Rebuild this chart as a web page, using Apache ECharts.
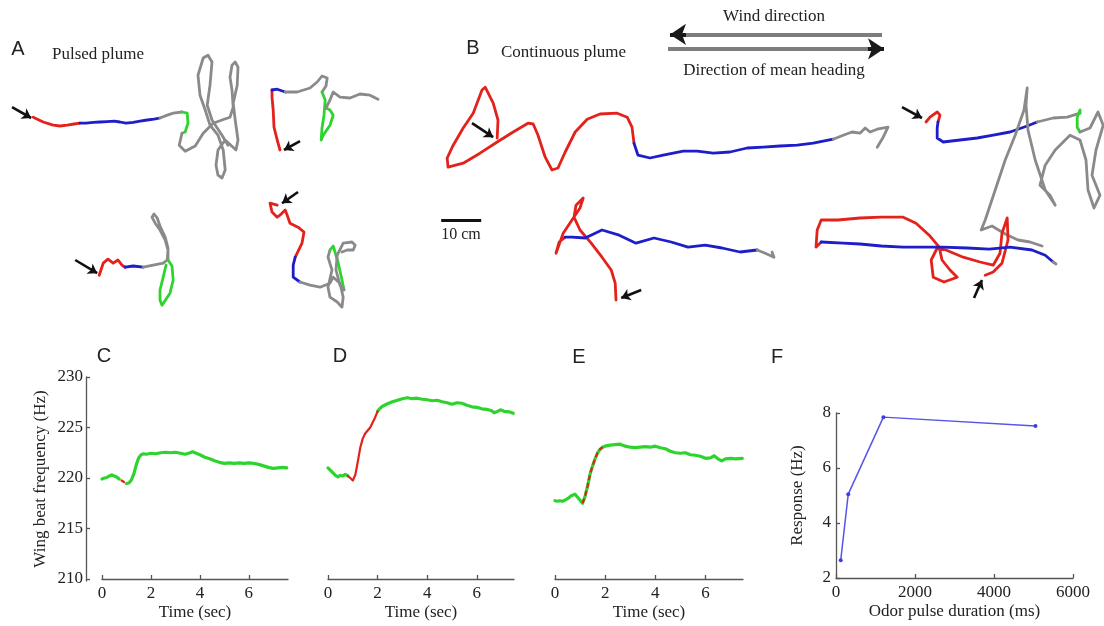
<!DOCTYPE html>
<html>
<head>
<meta charset="utf-8">
<script src="https://cdn.jsdelivr.net/npm/echarts@6/dist/echarts.min.js"></script>
<style>
  html, body { margin: 0; padding: 0; background: #fff; }
  #chart { width: 1104px; height: 626px; }
</style>
</head>
<body>
<div id="chart"></div>
<script>
// ---- Flight tracks (cm, figure frame, y grows downward) ----
// Each track is a list of [phase, points]: red = in odor, blue = upwind surge,
// green = casting onset, gray = before/after.
const TRACK_A1 = [
  ['red',  [[8.3,29.3],[10.8,30.5],[13.3,31.3],[15,31.5],[16.8,31.3],[18.5,31],[20,30.8]]],
  ['blue', [[20,30.8],[21.5,30.8],[23.3,30.6],[25,30.5],[26.8,30.4],[28.5,30.3],[30,30.5],[31.5,30.8],[33.3,30.6],[35,30.3],[36.8,30],[38.5,29.8],[40,29.5]]],
  ['gray', [[40,29.5],[41.5,28.9],[43.3,28.3],[45.5,28]]],
  ['green',[[45.5,28],[46.8,28.3],[47,30.8],[46.3,33],[45.5,33.3]]],
  ['gray', [[45.5,33.3],[44.8,36.3],[46.3,37.8],[48.8,36.5],[50.8,33.3],[53.3,30.8],[55.5,30],[57.5,29.3],[58.3,26.8],[58,22.5],[57.5,19.3],[58,16.3],[58.8,15.5],[59.5,16.8],[59.3,21.3],[58.3,25.8],[58.8,30],[59.5,35],[59,37.5],[56.3,35],[54.5,37.5],[54,41.3],[54.5,43.8],[55.5,44.5],[56.3,42.5],[55.8,37.5],[54.5,33.8],[52.5,31.3],[51.3,27.5],[50,23.8],[49.5,18.8],[50.8,14.5],[52,13.8],[53,15.5],[52.5,21.3],[51.8,26.3],[53,30],[55.5,33.8],[57,36.3]]]
];
const TRACK_A2 = [
  ['red',  [[70,37.5],[69.3,35],[68.5,31.8],[68.3,27.5],[68,24.3],[68,22.5]]],
  ['blue', [[68,22.5],[69.3,22.3],[71.3,23]]],
  ['gray', [[71.3,23],[74.3,23],[77.5,22],[79.3,20.5],[80.5,19],[81.8,19.5],[81.5,21.5],[80.5,23]]],
  ['green',[[80.5,23],[81.3,25],[81,28.8],[80.5,32],[80.3,35],[80.8,33.8],[82.5,31.3],[83.3,28.8],[82.5,27.5],[81.5,27]]],
  ['gray', [[81.5,27],[82.5,25],[83.3,23],[85,24.3],[87.5,24.5],[90,23.5],[92.5,23.8],[94.5,24.8]]]
];
const TRACK_A3 = [
  ['red',  [[24.8,68.8],[25.8,65.8],[27,64.8],[28.3,65.8],[29.5,65],[30.5,66.3],[31.3,66.8]]],
  ['blue', [[31.3,66.8],[33.3,66.5],[35.8,66.8]]],
  ['gray', [[35.8,66.8],[38.3,66.3],[40.8,65.8],[41.8,65],[42,62.5],[41.3,60],[40,57.5],[38.8,55.8],[38,54.3],[38.5,53.5],[39.3,54.5],[40,56.5],[41.3,59.3],[42,62],[42,65]]],
  ['green',[[42,65],[43,66.5],[43.3,70],[42.5,73.3],[40.5,76.3],[40,75],[40,72.5],[40.8,69.3],[41.5,66.3]]]
];
const TRACK_A4 = [
  ['red',  [[69.3,51.3],[67.5,50.8],[68,53],[69.3,54.3],[70,53.8],[71.3,52.5],[71.8,53.8],[72.5,55.8],[74.5,56.8],[76,58],[75.5,60.8],[74.3,63.3],[73.8,64.3]]],
  ['blue', [[73.8,64.3],[73.3,66.3],[73.3,69.3],[75,70.5]]],
  ['gray', [[75,70.5],[77.5,71.3],[80,71.8],[82.5,70.8],[83.3,69.3],[85,70.8],[85.8,74.3],[85.5,76.8],[84.3,75.5],[82.5,74.3],[82,71.8],[83,67.5],[82,64.3],[82.5,62.5]]],
  ['green',[[82.5,62.5],[83.3,61.5],[84.5,65.5],[85.5,70],[86,72.5]]],
  ['gray', [[86,72.5],[85,71.3],[84,67.5],[84.3,63.8],[85.8,60.8],[88,60.5],[88.8,61.3],[88.3,62.5],[86.8,62.5],[85.5,63]]]
];
const TRACK_B1 = [
  ['red',  [[124.3,34.5],[124.5,30],[123.3,25.8],[121.3,21.8],[120.5,22.5],[118.3,28.3],[115.8,32],[113.3,36.3],[111.8,39.5],[112,41.8],[115.8,40.8],[120,38.3],[124.3,35.5],[128.3,33],[132,30.8],[133.3,31],[134.5,33.8],[136.3,39.3],[138,42.5],[139.5,42],[141.3,38],[143.8,33],[146.8,29.8],[150,28.5],[154.3,28.3],[156.8,29.3],[158,31.8],[158.5,35.8]]],
  ['blue', [[158.5,35.8],[159.5,38.8],[162.5,39.5],[165.8,38.8],[170.8,37.8],[174.3,37.8],[178.3,38.3],[182.5,38],[186.8,37],[190.8,36.8],[195,36.5],[199.3,36.3],[203.3,35.8],[208.3,34.8]]],
  ['gray', [[208.3,34.8],[210.8,33.8],[213,33],[215,33.3],[216.3,32],[217.5,33],[219.3,32.3],[222,31.8],[220.8,34.3],[219.3,36.8]]]
];
const TRACK_B2 = [
  ['red',  [[231.5,30.5],[232.5,29.3],[234.3,28],[235,28.8],[234.5,30.5]]],
  ['blue', [[234.5,30.5],[234.3,32],[234.3,34.5],[235.8,35.5],[240,35],[244.3,34.5],[248.3,33.8],[252.5,33],[256.8,31.5],[259.3,30.5]]],
  ['gray', [[259.3,30.5],[263.3,29.5],[266.8,29.3],[270,28.3]]],
  ['green',[[270,28.3],[270,27.5],[269.3,29.3],[269.3,31.8],[270,33]]],
  ['gray', [[270,33],[272.5,32],[274.5,28],[275.8,31.3],[274,37.5],[273,43.8],[275,48.8],[273.5,52],[272,47.5],[271.5,40],[270,35],[267.5,33.8],[263.8,37.5],[261.3,41.3],[260,46.3],[262.5,48.8],[263.8,51.3],[261.3,47.5],[258.8,40],[257,32.5],[256.5,26.3],[256.8,22],[256,27.5],[253.8,33.8],[251.3,40],[248.8,47.5],[246.3,55],[245.3,57.5],[248,56.5],[251.3,58.5],[254.5,60],[257.5,60.5],[260.5,61.5]]]
];
const TRACK_B3 = [
  ['red',  [[154,75],[153.8,70.8],[152.8,67.5],[150.5,64.3],[147.8,60.8],[145,57.5],[143.5,54.3],[144,51.3],[145.8,49.5],[145,52],[143,55],[140.8,58.3],[139,63.3],[139.8,60.5],[141.3,59.3]]],
  ['blue', [[141.3,59.3],[143,59.3],[146.3,59.5],[150.5,57.5],[154.8,58.8],[159,60.8],[163.5,59.5],[167.8,60.5],[172,61.8],[176.3,61.3],[180.5,62],[185,63],[189.3,62.5]]],
  ['gray', [[189.3,62.5],[191.3,63.3],[193.5,64.3],[193,63]]]
];
const TRACK_B4 = [
  ['red',  [[246.3,68.8],[248.3,68],[250.5,65.8],[252,60],[251.8,54.5],[250.5,58.3],[250,63.3],[248.3,66.3],[245,65.5],[240.8,64.3],[236.5,62.5],[234.3,62],[232.8,65],[233.3,69.3],[236,70.5],[239.3,69.3],[237.5,67.5],[235.5,65],[234.8,61.8],[232.3,58.8],[229,55.8],[225.8,54.3],[220.3,54.3],[215,54.5],[209.5,55],[205.3,55],[204.3,57.5],[204,61.8],[205.3,60.5]]],
  ['blue', [[205.3,60.5],[210.8,60.8],[215,61],[220.3,61.5],[225.8,61.8],[231.3,61.8],[235.5,61.8],[241.8,62],[247.3,62.3],[252.5,61.8],[258,62.5],[261.3,63.8],[263.3,65.5]]],
  ['gray', [[263.3,65.5],[264,66]]]
];
// Start-of-track pointers: [tail, head]
const START_ARROWS = [
  [[3,26.8],[7.8,29.5]], [[75,35.3],[71,37.5]], [[18.8,65],[24.3,68.3]], [[74.5,48],[70.5,50.8]],
  [[118,30.8],[123.3,34.3]], [[225.5,26.8],[230.5,29.5]], [[160.3,72.5],[155.3,74.5]], [[243.5,74.5],[245.5,70]]
];
const WIND_ARROW = [[220.5,8.6],[167.5,8.6]];
const HEADING_ARROW = [[167,12.2],[221,12.2]];
const SCALE_BAR_CM = [[110.3,55],[120.3,55]];

// ---- Wing beat frequency traces: [time (s), frequency (Hz)] ----
const TRACE_C = [[0,219.9],[0.1,220.0],[0.2,220.05],[0.3,220.2],[0.4,220.3],[0.5,220.2],[0.6,220.1],[0.7,219.9],[0.8,219.75],[0.9,219.6],[1.0,219.45],[1.1,219.5],[1.2,219.8],[1.3,220.4],[1.4,221.3],[1.5,222.0],[1.6,222.3],[1.7,222.4],[1.8,222.35],[2.0,222.45],[2.2,222.4],[2.4,222.5],[2.6,222.55],[2.8,222.5],[3.0,222.55],[3.2,222.45],[3.4,222.35],[3.6,222.5],[3.7,222.6],[3.8,222.5],[4.0,222.3],[4.2,222.05],[4.4,221.9],[4.6,221.7],[4.8,221.55],[5.0,221.45],[5.2,221.5],[5.4,221.45],[5.6,221.5],[5.8,221.45],[6.0,221.5],[6.2,221.45],[6.4,221.35],[6.6,221.2],[6.8,221.05],[7.0,220.95],[7.2,221.0],[7.4,221.05],[7.55,221.0]];
const TRACE_D = [[0,221.0],[0.1,220.75],[0.2,220.5],[0.3,220.25],[0.4,220.1],[0.5,220.25],[0.6,220.2],[0.7,220.35],[0.8,220.2],[0.9,220.0],[1.0,219.75],[1.05,219.7],[1.1,220.3],[1.2,221.6],[1.3,223.0],[1.4,223.9],[1.5,224.4],[1.6,224.7],[1.7,225.0],[1.8,225.5],[1.9,226.0],[2.0,226.6],[2.1,226.9],[2.2,227.1],[2.4,227.35],[2.6,227.55],[2.8,227.7],[3.0,227.85],[3.2,227.95],[3.4,227.85],[3.6,227.9],[3.8,227.8],[4.0,227.75],[4.2,227.65],[4.4,227.7],[4.6,227.55],[4.8,227.45],[5.0,227.3],[5.2,227.45],[5.4,227.4],[5.6,227.2],[5.8,227.05],[6.0,227.0],[6.2,226.85],[6.4,226.8],[6.6,226.65],[6.7,226.45],[6.8,226.55],[6.95,226.75],[7.1,226.6],[7.3,226.55],[7.47,226.4]];
const TRACE_E = [[0,217.75],[0.1,217.7],[0.2,217.75],[0.3,217.7],[0.4,217.8],[0.5,217.95],[0.6,218.15],[0.7,218.3],[0.8,218.4],[0.9,218.1],[1.0,217.8],[1.1,217.5],[1.2,218.2],[1.3,219.2],[1.4,220.4],[1.5,221.2],[1.6,221.9],[1.7,222.5],[1.8,222.85],[1.9,223.05],[2.0,223.15],[2.2,223.25],[2.4,223.3],[2.6,223.35],[2.8,223.15],[3.0,223.05],[3.2,223.0],[3.4,223.05],[3.6,223.1],[3.8,223.05],[4.0,223.15],[4.2,223.0],[4.4,222.9],[4.6,222.65],[4.8,222.5],[5.0,222.45],[5.2,222.5],[5.4,222.3],[5.6,222.25],[5.8,222.15],[6.0,221.95],[6.2,222.0],[6.35,222.2],[6.5,221.9],[6.65,221.7],[6.8,221.9],[7.0,221.95],[7.2,221.9],[7.47,221.95]];
// Odor contact windows (s)
const ODOR_C = [0.75, 0.95];
const ODOR_D = [0.8, 2.0];
const ODOR_E = [1.1, 1.95];
const TIME_TICKS = [0, 2, 4, 6];
const FREQ_TICKS = [210, 215, 220, 225, 230];

// ---- Response vs. odor pulse duration ----
const PULSE_MS = [120, 310, 1200, 5050];
const RESPONSE_HZ = [2.65, 5.05, 7.85, 7.53];

const COLORS = { red: '#e3221c', blue: '#1d1dc9', green: '#2ed42e', gray: '#8a8a8a' };
const SERIF = '"Liberation Serif", "Times New Roman", serif';
const SANS = '"Liberation Sans", Arial, sans-serif';
const AXIS_COLOR = '#555';
const TEXT_COLOR = '#222';

const series = [];

function addTrack(track) {
  track.forEach(([phase, pts]) => {
    series.push({
      type: 'line', xAxisIndex: 0, yAxisIndex: 0, data: pts,
      symbol: 'none', silent: true, clip: false,
      lineStyle: { color: COLORS[phase], width: 2.8, cap: 'round', join: 'round' }
    });
  });
}
[TRACK_A1, TRACK_A2, TRACK_A3, TRACK_A4, TRACK_B1, TRACK_B2, TRACK_B3, TRACK_B4].forEach(addTrack);

series.push({
  type: 'lines', coordinateSystem: 'cartesian2d', xAxisIndex: 0, yAxisIndex: 0,
  symbol: ['none', 'arrow'], symbolSize: 9, silent: true, z: 5,
  lineStyle: { color: '#111', width: 2.6, opacity: 1 },
  data: START_ARROWS.map(c => ({ coords: c }))
});
// Wind / heading shafts and heads
series.push({
  type: 'lines', coordinateSystem: 'cartesian2d', xAxisIndex: 0, yAxisIndex: 0,
  symbol: 'none', silent: true,
  lineStyle: { color: '#7d7d7d', width: 4, opacity: 1 },
  data: [{ coords: WIND_ARROW }, { coords: HEADING_ARROW }]
});
function headSeg(a) {
  const tip = a[1], dir = Math.sign(a[1][0] - a[0][0]);
  return { coords: [[tip[0] - dir * 4, tip[1]], tip] };
}
series.push({
  type: 'lines', coordinateSystem: 'cartesian2d', xAxisIndex: 0, yAxisIndex: 0,
  symbol: ['none', 'arrow'], symbolSize: [13, 16], silent: true, z: 4,
  lineStyle: { color: '#1a1a1a', width: 4, opacity: 1 },
  data: [headSeg(WIND_ARROW), headSeg(HEADING_ARROW)]
});
series.push({
  type: 'lines', coordinateSystem: 'cartesian2d', xAxisIndex: 0, yAxisIndex: 0,
  symbol: 'none', silent: true,
  lineStyle: { color: '#111', width: 3, opacity: 1 },
  data: [{ coords: SCALE_BAR_CM }]
});

// Frequency traces: green outside the odor window, red inside it
function addTrace(trace, win, axis, overlay) {
  const before = trace.filter(p => p[0] <= win[0]);
  const inside = trace.filter(p => p[0] >= win[0] && p[0] <= win[1]);
  const after = trace.filter(p => p[0] >= win[1]);
  const green = { color: COLORS.green, width: 3.2, cap: 'round', join: 'round' };
  if (overlay) {
    series.push({ type: 'line', xAxisIndex: axis, yAxisIndex: axis, data: trace, symbol: 'none', silent: true, lineStyle: green });
    series.push({ type: 'line', xAxisIndex: axis, yAxisIndex: axis, data: inside, symbol: 'none', silent: true, z: 3,
      lineStyle: { color: COLORS.red, width: 2.2, type: [5, 3] } });
  } else {
    series.push({ type: 'line', xAxisIndex: axis, yAxisIndex: axis, data: before, symbol: 'none', silent: true, lineStyle: green });
    series.push({ type: 'line', xAxisIndex: axis, yAxisIndex: axis, data: after, symbol: 'none', silent: true, lineStyle: green });
    series.push({ type: 'line', xAxisIndex: axis, yAxisIndex: axis, data: inside, symbol: 'none', silent: true, z: 3,
      lineStyle: { color: COLORS.red, width: 2.2, cap: 'round', join: 'round' } });
  }
}
addTrace(TRACE_C, ODOR_C, 1, false);
addTrace(TRACE_D, ODOR_D, 2, false);
addTrace(TRACE_E, ODOR_E, 3, true);

series.push({
  type: 'line', xAxisIndex: 4, yAxisIndex: 4, silent: true,
  data: PULSE_MS.map((x, i) => [x, RESPONSE_HZ[i]]),
  symbol: 'circle', symbolSize: 4, showSymbol: true,
  itemStyle: { color: '#3d3de0' },
  lineStyle: { color: '#5555e6', width: 1.5 }
});

const labelStyle = { fontFamily: SERIF, fontSize: 17, color: TEXT_COLOR };
const lineStyle = { color: AXIS_COLOR, width: 1.3 };
const plain = v => String(v);

function timeAxis(grid, max) {
  return {
    gridIndex: grid, type: 'value', min: 0, max: max,
    axisLine: { show: true, lineStyle },
    axisTick: { show: true, inside: true, length: 4, lineStyle, customValues: TIME_TICKS },
    axisLabel: Object.assign({ margin: 6, customValues: TIME_TICKS, formatter: plain }, labelStyle),
    splitLine: { show: false },
    name: 'Time (sec)', nameLocation: 'middle', nameGap: 25, nameTextStyle: labelStyle
  };
}
function freqAxis(grid, visible) {
  return {
    gridIndex: grid, type: 'value', min: 210, max: 230, interval: 5, show: visible,
    axisLine: { show: true, lineStyle },
    axisTick: { show: true, inside: true, length: 4, lineStyle, customValues: FREQ_TICKS },
    axisLabel: Object.assign({ margin: 3, customValues: FREQ_TICKS, formatter: plain }, labelStyle),
    splitLine: { show: false },
    name: visible ? 'Wing beat frequency (Hz)' : '', nameLocation: 'middle', nameGap: 37, nameTextStyle: labelStyle
  };
}

const option = {
  animation: false,
  backgroundColor: '#fff',
  grid: [
    { left: 0, top: 0, width: 1104, height: 330 },
    { left: 102, top: 377, width: 186, height: 202 },
    { left: 328, top: 377, width: 186, height: 202 },
    { left: 555, top: 377, width: 188, height: 202 },
    { left: 836, top: 413, width: 237, height: 165 },
    // detached frequency axis shared by C, D, E
    { left: 86, top: 377, width: 1, height: 204 }
  ],
  xAxis: [
    { gridIndex: 0, type: 'value', min: 0, max: 276, show: false },
    timeAxis(1, 7.6),
    timeAxis(2, 7.5),
    timeAxis(3, 7.5),
    {
      gridIndex: 4, type: 'value', min: 0, max: 6000, interval: 2000,
      axisLine: { show: true, lineStyle },
      axisTick: { show: true, inside: true, length: 4, lineStyle },
      axisLabel: Object.assign({ margin: 6, formatter: plain }, labelStyle),
      splitLine: { show: false },
      name: 'Odor pulse duration (ms)', nameLocation: 'middle', nameGap: 25, nameTextStyle: labelStyle
    },
    { gridIndex: 5, type: 'value', min: 0, max: 1, show: false }
  ],
  yAxis: [
    { gridIndex: 0, type: 'value', min: 0, max: 82.5, inverse: true, show: false },
    freqAxis(1, false),
    freqAxis(2, false),
    freqAxis(3, false),
    {
      gridIndex: 4, type: 'value', min: 2, max: 8, interval: 2,
      axisLine: { show: true, lineStyle },
      axisTick: { show: true, inside: true, length: 4, lineStyle },
      axisLabel: Object.assign({ margin: 5, formatter: plain }, labelStyle),
      splitLine: { show: false },
      name: 'Response (Hz)', nameLocation: 'middle', nameGap: 30, nameTextStyle: labelStyle
    },
    Object.assign(freqAxis(5, true), { min: 209.8 })
  ],
  graphic: [
    { type: 'text', x: 18, y: 49, style: { text: 'A', font: '20px ' + SANS, fill: TEXT_COLOR, textAlign: 'center', textVerticalAlign: 'middle' } },
    { type: 'text', x: 52, y: 55, style: { text: 'Pulsed plume', font: '17px ' + SERIF, fill: TEXT_COLOR, textAlign: 'left', textVerticalAlign: 'middle' } },
    { type: 'text', x: 473, y: 48, style: { text: 'B', font: '20px ' + SANS, fill: TEXT_COLOR, textAlign: 'center', textVerticalAlign: 'middle' } },
    { type: 'text', x: 501, y: 53, style: { text: 'Continuous plume', font: '17px ' + SERIF, fill: TEXT_COLOR, textAlign: 'left', textVerticalAlign: 'middle' } },
    { type: 'text', x: 774, y: 17, style: { text: 'Wind direction', font: '17px ' + SERIF, fill: TEXT_COLOR, textAlign: 'center', textVerticalAlign: 'middle' } },
    { type: 'text', x: 774, y: 71, style: { text: 'Direction of mean heading', font: '17px ' + SERIF, fill: TEXT_COLOR, textAlign: 'center', textVerticalAlign: 'middle' } },
    { type: 'text', x: 461, y: 235, style: { text: '10 cm', font: '16px ' + SERIF, fill: TEXT_COLOR, textAlign: 'center', textVerticalAlign: 'middle' } },
    { type: 'text', x: 104, y: 356, style: { text: 'C', font: '20px ' + SANS, fill: TEXT_COLOR, textAlign: 'center', textVerticalAlign: 'middle' } },
    { type: 'text', x: 340, y: 356, style: { text: 'D', font: '20px ' + SANS, fill: TEXT_COLOR, textAlign: 'center', textVerticalAlign: 'middle' } },
    { type: 'text', x: 579, y: 357, style: { text: 'E', font: '20px ' + SANS, fill: TEXT_COLOR, textAlign: 'center', textVerticalAlign: 'middle' } },
    { type: 'text', x: 777, y: 357, style: { text: 'F', font: '20px ' + SANS, fill: TEXT_COLOR, textAlign: 'center', textVerticalAlign: 'middle' } }
  ],
  series: series
};

const chart = echarts.init(document.getElementById('chart'), null, { renderer: 'canvas' });
chart.setOption(option);
</script>
</body>
</html>
